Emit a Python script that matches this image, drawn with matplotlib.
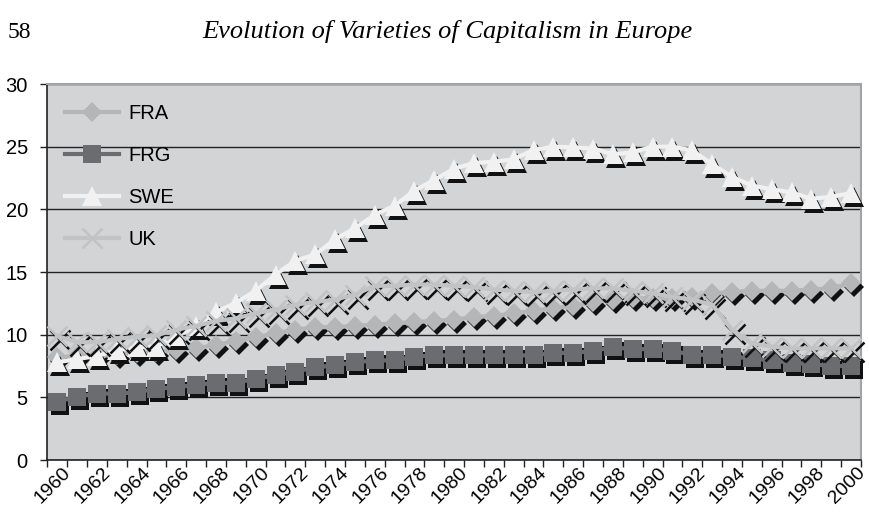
import matplotlib
matplotlib.use("Agg")
import matplotlib.pyplot as plt
import matplotlib.transforms as mtransforms
import numpy as np

plt.rcParams["font.family"] = ["Liberation Sans", "DejaVu Sans"]

years = list(range(1960, 2001))
FRA = [8.2, 8.3, 8.3, 8.4, 8.5, 8.6, 8.8, 8.9, 9.2, 9.5,
       9.8, 10.1, 10.4, 10.6, 10.6, 10.7, 10.8, 10.9, 11.0, 11.1,
       11.2, 11.4, 11.5, 11.7, 11.9, 12.1, 12.3, 12.6, 12.8, 12.9,
       12.9, 12.9, 13.0, 13.3, 13.4, 13.5, 13.5, 13.5, 13.6, 13.7, 14.1]
FRG = [4.65, 5.05, 5.3, 5.3, 5.4, 5.7, 5.8, 6.0, 6.15, 6.15,
       6.5, 6.75, 7.05, 7.4, 7.55, 7.8, 7.95, 7.95, 8.25, 8.35,
       8.35, 8.35, 8.35, 8.35, 8.35, 8.55, 8.55, 8.7, 9.0, 8.85,
       8.85, 8.7, 8.4, 8.4, 8.25, 8.1, 7.95, 7.75, 7.65, 7.5, 7.5]
SWE = [7.8, 8.05, 8.3, 8.75, 9.0, 9.05, 9.9, 10.7, 11.8, 12.55,
       13.5, 14.8, 15.9, 16.4, 17.6, 18.5, 19.55, 20.3, 21.5, 22.35,
       23.25, 23.7, 23.8, 24.0, 24.75, 25.0, 24.95, 24.85, 24.4, 24.55,
       25.0, 25.0, 24.7, 23.6, 22.6, 21.9, 21.6, 21.35, 20.85, 21.0, 21.3]
UK = [9.9, 9.4, 9.4, 9.65, 9.85, 9.95, 10.4, 10.7, 11.1, 11.3,
      11.7, 12.0, 12.4, 12.6, 12.8, 13.2, 13.9, 13.9, 14.0, 14.0,
      13.9, 13.8, 13.6, 13.5, 13.4, 13.5, 13.6, 13.7, 13.7, 13.5,
      13.3, 13.0, 12.8, 12.4, 10.4, 9.3, 9.05, 8.9, 8.9, 8.9, 8.9]

series_names = ["FRA", "FRG", "SWE", "UK"]
series_vals = [FRA, FRG, SWE, UK]
colors = ["#b5b6b8", "#6b6c6f", "#f1f1f1", "#c2c3c5"]
markers = ["D", "s", "^", "x"]
msizes = [10.5, 13.5, 14.0, 14.0]

fig = plt.figure(figsize=(8.69, 5.13), dpi=100)
ax = fig.add_axes([0.0544, 0.1033, 0.9364, 0.7329])
ax.set_facecolor("#d3d4d6")

x = np.arange(len(years))
shadow_tr = mtransforms.offset_copy(ax.transData, fig=fig, x=3, y=-4, units="dots")

for name, vals, c, m, ms in zip(series_names, series_vals, colors, markers, msizes):
    mew = 1.8 if m == "x" else 0
    ax.plot(x, vals, linestyle="none", marker=m, markersize=ms, color="#111111",
            markeredgecolor="#111111", markeredgewidth=mew, transform=shadow_tr,
            zorder=3, clip_on=False)
    ax.plot(x, vals, linestyle="-", linewidth=3.0, color=c, marker=m, markersize=ms,
            markerfacecolor=c, markeredgecolor=c, markeredgewidth=mew,
            label=name, zorder=3, clip_on=False)

ax.set_xlim(-0.5, len(years) - 0.5)
ax.set_ylim(0, 30)
ax.set_yticks(range(0, 31, 5))
ax.grid(axis="y", color="#222222", linewidth=1.0)
ax.set_axisbelow(True)

ax.set_xticks(x[::2])
ax.set_xticklabels([str(y) for y in years[::2]])
ax.set_xticks(np.arange(len(years) + 1) - 0.5, minor=True)
ax.tick_params(axis="x", which="major", length=0, pad=3, labelsize=14)
ax.tick_params(axis="x", which="minor", length=5, width=1, color="#222222", direction="out")
ax.tick_params(axis="y", length=5, width=1, color="#222222", labelsize=14.5, pad=9)

for lab in ax.get_xticklabels():
    lab.set_rotation(45)
    lab.set_ha("right")
    lab.set_va("top")
    lab.set_rotation_mode("anchor")
    lab.set_transform(lab.get_transform() + mtransforms.ScaledTranslation(5 / 100, 0, fig.dpi_scale_trans))

for s in ["left", "bottom"]:
    ax.spines[s].set_color("#222222")
    ax.spines[s].set_linewidth(1.2)
for s in ["top", "right"]:
    ax.spines[s].set_color("#a3a3a5")
    ax.spines[s].set_linewidth(1.5)

leg = ax.legend(loc="upper left", bbox_to_anchor=(0.012, 0.968), frameon=False,
                fontsize=14.5, handlelength=2.7, labelspacing=1.135, handletextpad=0.45,
                borderaxespad=0)

fig.text(0.009, 0.926, "58", fontsize=17, family="Liberation Serif", va="baseline")
fig.text(0.515, 0.926, "Evolution of Varieties of Capitalism in Europe", fontsize=19,
         family="Liberation Serif", style="italic", ha="center", va="baseline")

fig.savefig("out.png", dpi=100)
